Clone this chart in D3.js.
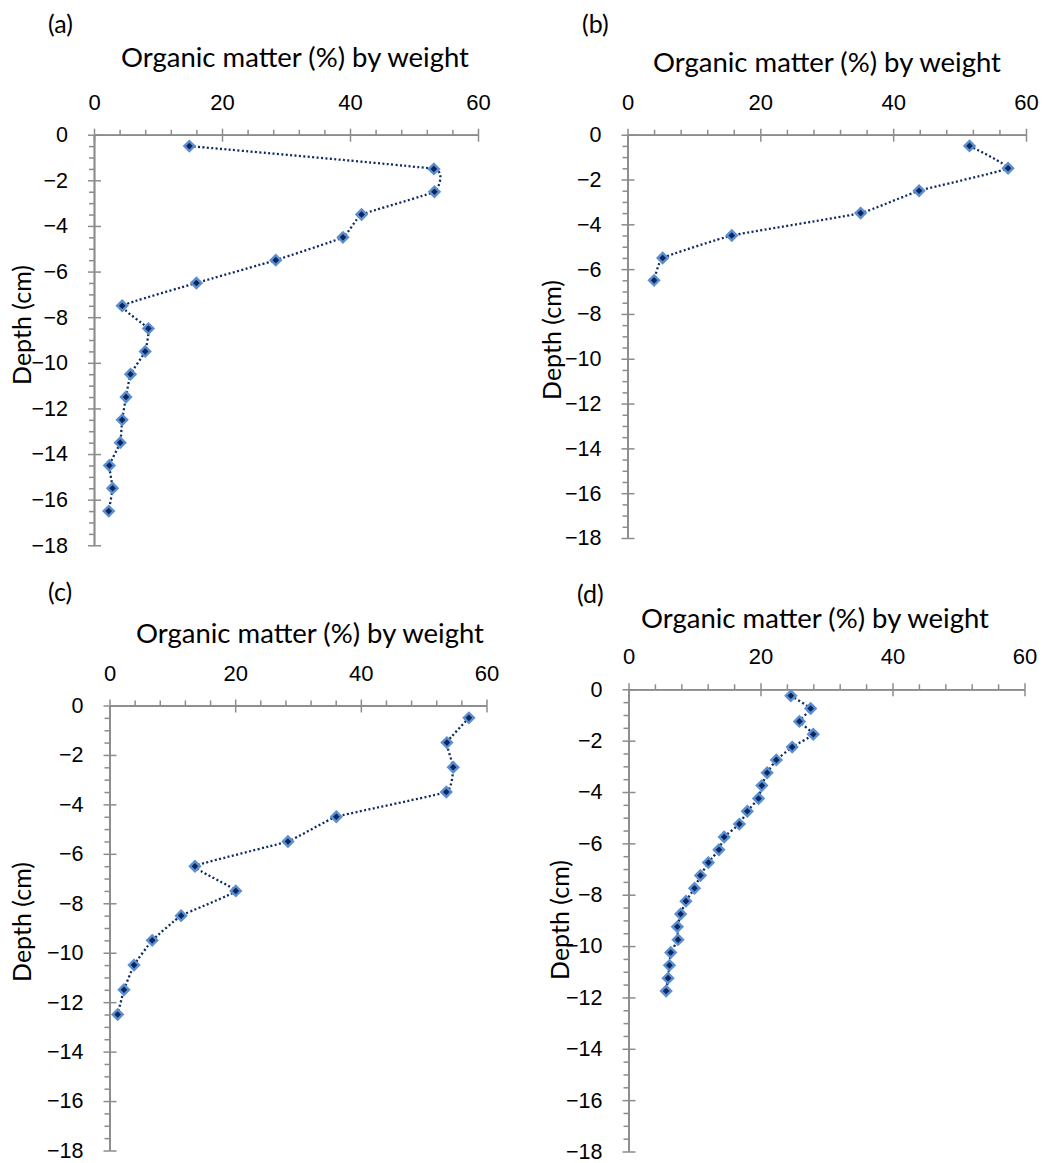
<!DOCTYPE html>
<html>
<head>
<meta charset="utf-8">
<script src="https://cdn.jsdelivr.net/npm/d3@7"></script>
<style>
    body { margin: 0; background: #fff; }
    svg { display: block; font-family: Lato, "Open Sans", sans-serif; }
    .axis path, .axis line { stroke: #8c8c8c; stroke-width: 1.5; }
    .axis text { fill: #000; }
</style>
</head>
<body>
<svg width="1046" height="1163"></svg>
<script>
// values
var depthA = [-0.5, -1.5, -2.5, -3.5, -4.5, -5.5, -6.5, -7.5, -8.5, -9.5, -10.5, -11.5, -12.5, -13.5, -14.5, -15.5, -16.5];
var organicA = [14.9, 53.1, 53.2, 41.8, 38.9, 28.4, 16.0, 4.4, 8.5, 8.0, 5.7, 5.0, 4.4, 4.1, 2.4, 2.9, 2.3];

var depthB = [-0.5, -1.5, -2.5, -3.5, -4.5, -5.5, -6.5];
var organicB = [51.5, 57.3, 43.9, 35.1, 15.7, 5.3, 4.0];

var depthC = [-0.5, -1.5, -2.5, -3.5, -4.5, -5.5, -6.5, -7.5, -8.5, -9.5, -10.5, -11.5, -12.5];
var organicC = [57.2, 53.7, 54.7, 53.6, 36.1, 28.4, 13.6, 20.1, 11.4, 6.8, 3.9, 2.3, 1.3];

var depthD = [-0.25, -0.75, -1.25, -1.75, -2.25, -2.75, -3.25, -3.75, -4.25, -4.75, -5.25, -5.75,
              -6.25, -6.75, -7.25, -7.75, -8.25, -8.75, -9.25, -9.75, -10.25, -10.75, -11.25, -11.75];
var organicD = [24.6, 27.6, 25.9, 28.0, 24.8, 22.4, 21.0, 20.2, 19.7, 18.0, 16.8, 14.5,
                13.7, 12.1, 10.9, 10.0, 8.7, 7.9, 7.4, 7.5, 6.4, 6.2, 6.0, 5.7];

var xTicks = [0, 20, 40, 60];
var xMinorTicks = [4, 8, 12, 16, 24, 28, 32, 36, 44, 48, 52, 56];
var yTicks = [0, -2, -4, -6, -8, -10, -12, -14, -16, -18];
var panelLabels = ["(a)", "(b)", "(c)", "(d)"];
var xTitle = "Organic matter (%) by weight";
var yTitle = "Depth (cm)";

(function () {
    var svg = d3.select("svg");

    // where each panel sits on the page
    var panels = [
        {depth: depthA, om: organicA, label: panelLabels[0], x: [94, 478], y: [134.7, 545.3],
            labelX: 48, labelY: 33, titleX: 295, titleY: 67, depthX: 22, depthY: 325},
        {depth: depthB, om: organicB, label: panelLabels[1], x: [627.5, 1026], y: [134.7, 538],
            labelX: 582, labelY: 33, titleX: 827, titleY: 72, depthX: 552, depthY: 340},
        {depth: depthC, om: organicC, label: panelLabels[2], x: [109.5, 486.5], y: [705.5, 1150.5],
            labelX: 48, labelY: 601, titleX: 310, titleY: 643, depthX: 22, depthY: 922},
        {depth: depthD, om: organicD, label: panelLabels[3], x: [628.5, 1024.5], y: [689.3, 1151.5],
            labelX: 577, labelY: 603, titleX: 815, titleY: 628, depthX: 560, depthY: 920}
    ];

    var yMinorTicks = d3.range(0, -18.01, -0.5).filter(function (v) {
        return yTicks.indexOf(v) < 0;
    });

    panels.forEach(function (p) {
        var g = svg.append("g");

        var scaleX = d3.scaleLinear().domain([0, 60]).range(p.x),
            scaleY = d3.scaleLinear().domain([0, -18]).range(p.y);

        // x axis on top, major ticks cross the line
        var xAxisG = g.append("g").attr("class", "axis")
            .attr("transform", "translate(0," + p.y[0] + ")");
        xAxisG.append("g")
            .call(d3.axisTop(scaleX).tickValues(xMinorTicks).tickSize(5).tickSizeOuter(0).tickFormat(""));
        xAxisG.append("g")
            .call(d3.axisBottom(scaleX).tickValues(xTicks).tickSize(7).tickSizeOuter(0).tickFormat(""));
        xAxisG.append("g")
            .call(d3.axisTop(scaleX).tickValues(xTicks).tickSize(6).tickSizeOuter(0).tickPadding(19))
            .selectAll("text").style("font-size", "22px");

        var yAxisG = g.append("g").attr("class", "axis")
            .attr("transform", "translate(" + p.x[0] + ",0)");
        yAxisG.append("g")
            .call(d3.axisLeft(scaleY).tickValues(yMinorTicks).tickSize(5).tickSizeOuter(0).tickFormat(""));
        yAxisG.append("g")
            .call(d3.axisRight(scaleY).tickValues(yTicks).tickSize(7).tickSizeOuter(0).tickFormat(""));
        yAxisG.append("g")
            .call(d3.axisLeft(scaleY).tickValues(yTicks).tickSize(6).tickSizeOuter(0).tickPadding(20))
            .selectAll("text").style("font-size", "21.5px");

        // titles
        g.append("text")
            .attr("x", p.labelX)
            .attr("y", p.labelY)
            .style("font-size", "25px")
            .text(p.label);

        g.append("text")
            .attr("x", p.titleX)
            .attr("y", p.titleY)
            .attr("text-anchor", "middle")
            .style("font-size", "27.5px")
            .text(xTitle);

        g.append("text")
            .attr("transform", "translate(" + p.depthX + "," + p.depthY + ") rotate(-90)")
            .attr("text-anchor", "middle")
            .attr("dy", "0.35em")
            .style("font-size", "25px")
            .text(yTitle);

        // data
        var points = p.depth.map(function (d, i) {
            return {depth: d, om: p.om[i]};
        });

        var line = d3.line()
            .x(function (d) { return scaleX(d.om); })
            .y(function (d) { return scaleY(d.depth); })
            .curve(d3.curveCardinal.tension(0.7));

        g.append("path")
            .datum(points)
            .attr("d", line)
            .attr("fill", "none")
            .attr("stroke", "#0d2a63")
            .attr("stroke-width", 2.3)
            .attr("stroke-dasharray", "2,2.4");

        var diamond = d3.symbol().type(d3.symbolSquare).size(50);
        g.selectAll(".marker")
            .data(points)
            .enter().append("path")
            .attr("class", "marker")
            .attr("d", diamond)
            .attr("transform", function (d) {
                return "translate(" + scaleX(d.om) + "," + scaleY(d.depth) + ") rotate(45)";
            })
            .attr("fill", "#0a2560")
            .attr("stroke", "#5b8fd0")
            .attr("stroke-width", 2.4);
    });
})();
</script>
</body>
</html>
